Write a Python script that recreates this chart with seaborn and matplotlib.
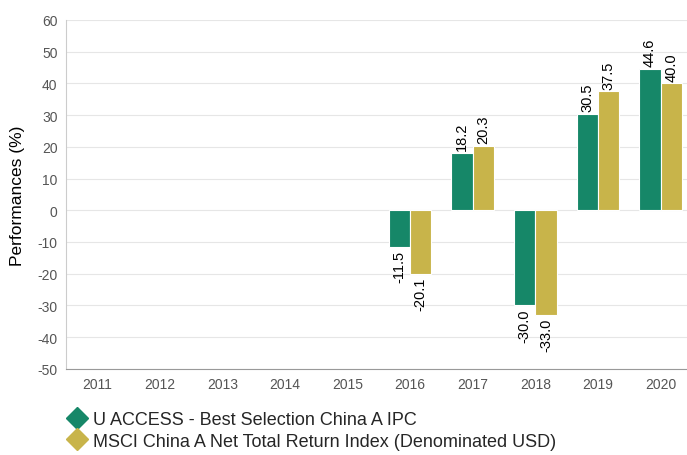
import matplotlib
matplotlib.use("Agg")
import matplotlib.pyplot as plt
import seaborn as sns
import pandas as pd
from matplotlib.lines import Line2D

# data
years = ['2011', '2012', '2013', '2014', '2015', '2016', '2017', '2018', '2019', '2020']
fund_name = 'U ACCESS - Best Selection China A IPC'
index_name = 'MSCI China A Net Total Return Index (Denominated USD)'
fund_values = [None, None, None, None, None, -11.5, 18.2, -30.0, 30.5, 44.6]
index_values = [None, None, None, None, None, -20.1, 20.3, -33.0, 37.5, 40.0]

green = '#168768'
gold = '#c8b44a'

rows = []
for y, f, i in zip(years, fund_values, index_values):
    if f is not None:
        rows.append({'year': y, 'serie': fund_name, 'value': f})
    if i is not None:
        rows.append({'year': y, 'serie': index_name, 'value': i})
df = pd.DataFrame(rows)

sns.set_style('white')
plt.rcParams['font.family'] = ['Liberation Sans', 'DejaVu Sans']
plt.rcParams['axes.unicode_minus'] = False

fig = plt.figure(figsize=(6.87, 4.56), dpi=100)
# the plot area runs a little past the right edge of the image
ax = fig.add_axes([0.096, 0.189, 0.911, 0.765])

sns.barplot(data=df, x='year', y='value', hue='serie', order=years,
            hue_order=[fund_name, index_name], palette=[green, gold],
            saturation=1, width=0.68, edgecolor='white', linewidth=0.8,
            ax=ax, legend=False)

for cont in ax.containers:
    ax.bar_label(cont, fmt='%.1f', rotation=90, padding=2, fontsize=10.5, color='black')

ax.set_ylim(-50, 60)
ax.set_yticks(range(-50, 61, 10))
ax.set_xlim(-0.5, len(years) - 0.5)
ax.yaxis.grid(True, color='#e6e6e6', linewidth=0.8)
ax.set_axisbelow(True)
for s in ['top', 'right']:
    ax.spines[s].set_visible(False)
ax.spines['left'].set_color('#cccccc')
ax.spines['bottom'].set_color('#999999')
ax.tick_params(axis='both', labelsize=10, colors='#555555', length=0, pad=6)
ax.set_xlabel('')
ax.set_ylabel('Performances (%)', fontsize=12.5, color='black', labelpad=9)

handles = [Line2D([], [], marker='D', linestyle='none', markersize=11,
                  markerfacecolor=green, markeredgecolor=green),
           Line2D([], [], marker='D', linestyle='none', markersize=11,
                  markerfacecolor=gold, markeredgecolor=gold)]
fig.legend(handles, [fund_name, index_name], loc='upper left',
           bbox_to_anchor=(0.102, 0.096), frameon=False, fontsize=13,
           handlelength=0.8, handletextpad=0.45, labelspacing=0.25,
           borderpad=0, borderaxespad=0)

fig.savefig('out.png', dpi=100)
